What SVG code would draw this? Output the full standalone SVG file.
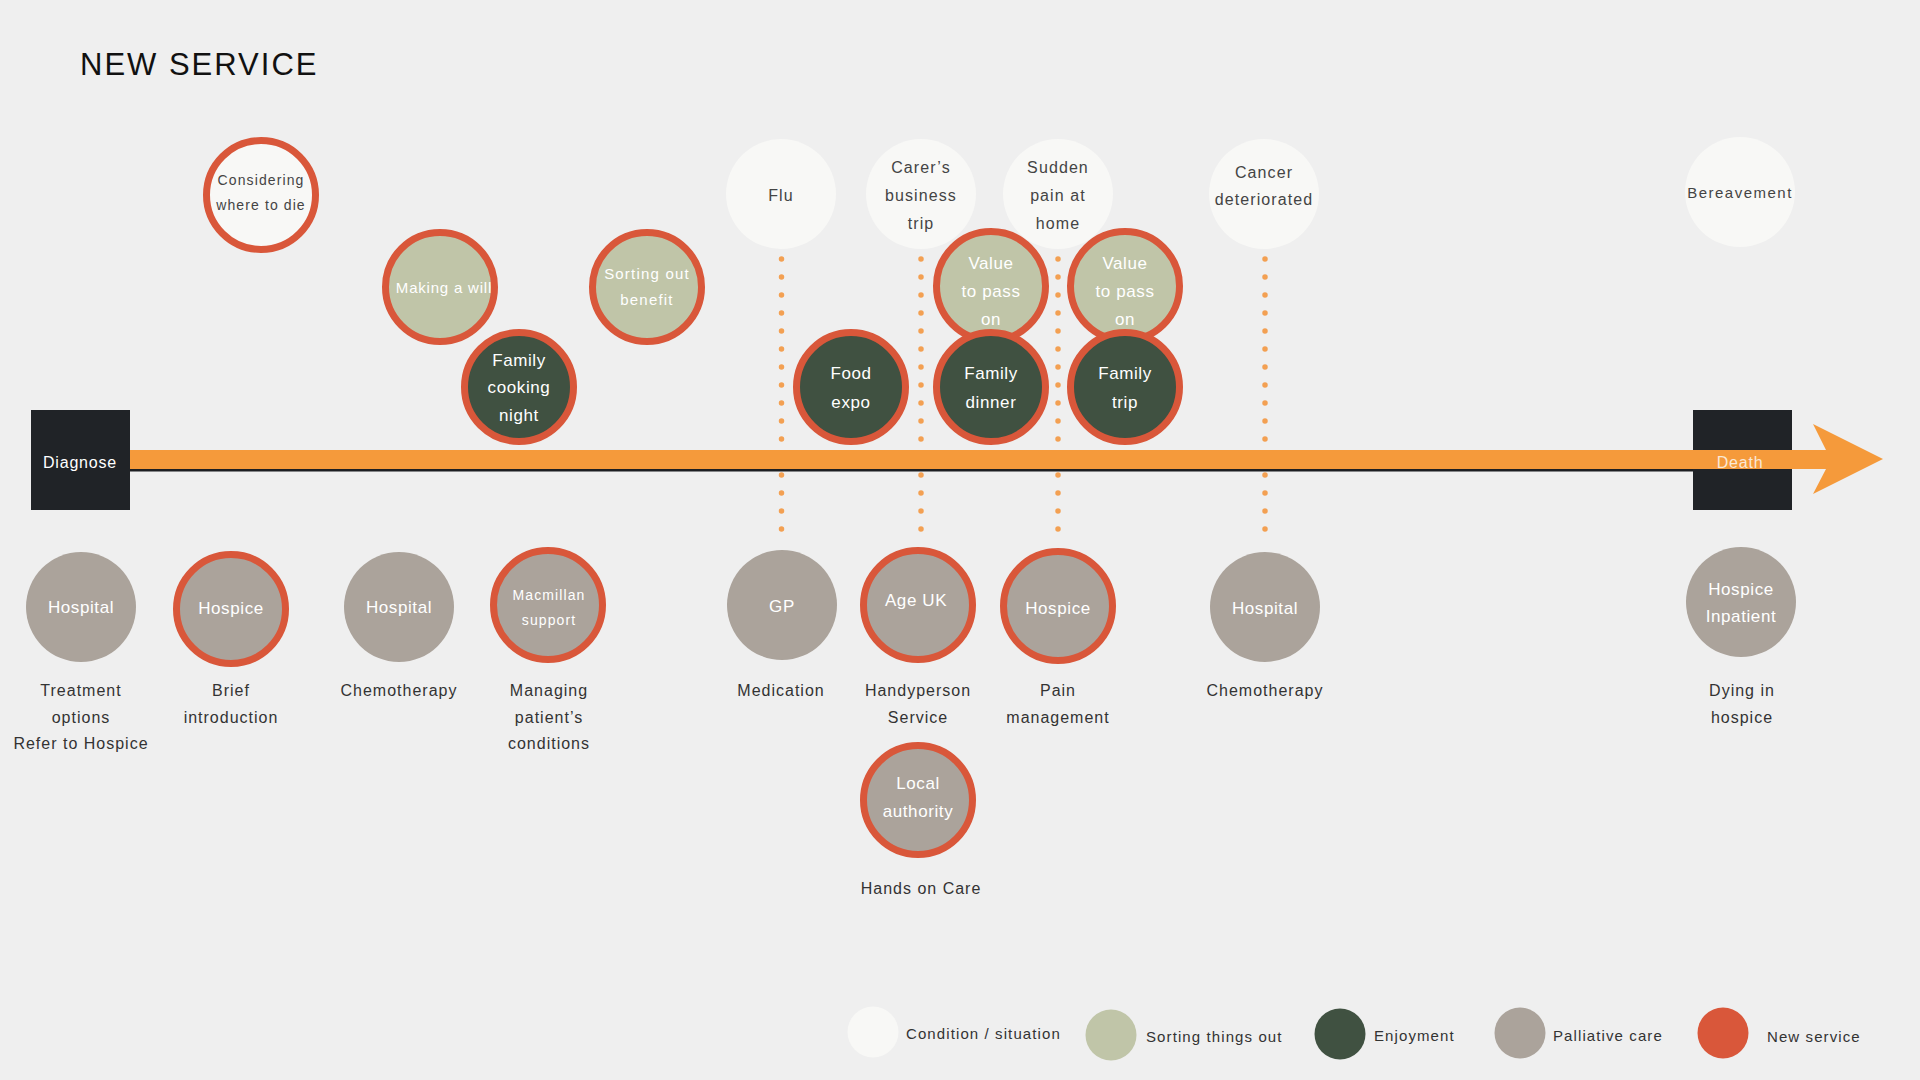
<svg xmlns="http://www.w3.org/2000/svg" width="1920" height="1080" viewBox="0 0 1920 1080">
<style>
text{font-family:"Liberation Sans",Arial,sans-serif;text-anchor:middle;dominant-baseline:central}
.cond{fill:#f8f8f6}
.sort{fill:#c0c5a8}
.enj{fill:#405141}
.pal{fill:#aba39b}
.new{stroke:#d9573a;stroke-width:7}
.dk{fill:#444;font-size:16px;letter-spacing:1.1px}
.wt{fill:#ffffff;font-size:17px;letter-spacing:0.6px}
.ws{fill:#ffffff;font-size:15px;letter-spacing:1px}
.lbl{fill:#333;font-size:16px;letter-spacing:1px}
.leg{fill:#333;font-size:15px;letter-spacing:1.1px;text-anchor:start}
.dots{stroke:#f3a052;stroke-width:5.5;stroke-linecap:round;stroke-dasharray:0 18;fill:none}
</style>
<rect x="0" y="0" width="1920" height="1080" fill="#efefef"/>
<text x="80" y="64" style="font-size:31px;letter-spacing:2px;text-anchor:start;fill:#111">NEW SERVICE</text>

<g id="connectors">
<line class="dots" x1="781.5" y1="259" x2="781.5" y2="530"/>
<line class="dots" x1="921" y1="259" x2="921" y2="530"/>
<line class="dots" x1="1058" y1="259" x2="1058" y2="530"/>
<line class="dots" x1="1265" y1="259" x2="1265" y2="530"/>
</g>

<g id="timeline">
<line x1="128" y1="470" x2="1695" y2="470" stroke="#1d1f22" stroke-width="3"/>
<rect id="diagnose" x="31" y="410" width="99" height="100" fill="#202327"/>
<rect id="death" x="1693" y="410" width="99" height="100" fill="#202327"/>
<polygon points="130,450 1826,450 1813,424 1883,459 1813,494 1826,469 130,469" fill="#f59a3b"/>
<text x="80" y="462" style="fill:#fff;font-size:16px;letter-spacing:0.8px">Diagnose</text>
<text x="1740" y="462" style="fill:#fbe9d6;font-size:16px;letter-spacing:0.8px">Death</text>
</g>

<g id="n-considering">
<circle class="cond new" cx="261" cy="195" r="54.5"/>
<text class="dk" x="261" y="180" style="font-size:14px">Considering</text>
<text class="dk" x="261" y="205" style="font-size:14px">where to die</text>
</g>
<g id="n-making-will">
<circle class="sort new" cx="440" cy="287" r="54.5"/>
<text class="ws" x="444" y="287" style="letter-spacing:0.8px">Making a will</text>
</g>
<g id="n-sorting-benefit">
<circle class="sort new" cx="647" cy="287" r="54.5"/>
<text class="ws" x="647" y="273" style="letter-spacing:1.2px">Sorting out</text>
<text class="ws" x="647" y="299" style="letter-spacing:1.2px">benefit</text>
</g>
<g id="n-family-cooking">
<circle class="enj new" cx="519" cy="387" r="54.5"/>
<text class="wt" x="519" y="360">Family</text>
<text class="wt" x="519" y="387">cooking</text>
<text class="wt" x="519" y="415">night</text>
</g>
<g id="n-flu">
<circle class="cond" cx="781" cy="194" r="55"/>
<text class="dk" x="781" y="195">Flu</text>
</g>
<g id="n-carers-trip">
<circle class="cond" cx="921" cy="194" r="55"/>
<text class="dk" x="921" y="167">Carer’s</text>
<text class="dk" x="921" y="195">business</text>
<text class="dk" x="921" y="223">trip</text>
</g>
<g id="n-sudden-pain">
<circle class="cond" cx="1058" cy="194" r="55"/>
<text class="dk" x="1058" y="167">Sudden</text>
<text class="dk" x="1058" y="195">pain at</text>
<text class="dk" x="1058" y="223">home</text>
</g>
<g id="n-cancer">
<circle class="cond" cx="1264" cy="194" r="55"/>
<text class="dk" x="1264" y="172">Cancer</text>
<text class="dk" x="1264" y="199">deteriorated</text>
</g>
<g id="n-bereavement">
<circle class="cond" cx="1740" cy="192" r="55"/>
<text class="dk" x="1740" y="192" style="font-size:15px;letter-spacing:1.5px">Bereavement</text>
</g>
<g id="n-food-expo">
<circle class="enj new" cx="851" cy="387" r="54.5"/>
<text class="wt" x="851" y="373">Food</text>
<text class="wt" x="851" y="402">expo</text>
</g>
<g id="n-value-1">
<circle class="sort new" cx="991" cy="286" r="54.5"/>
<text class="wt" x="991" y="263">Value</text>
<text class="wt" x="991" y="291">to pass</text>
<text class="wt" x="991" y="319">on</text>
</g>
<g id="n-family-dinner">
<circle class="enj new" cx="991" cy="387" r="54.5"/>
<text class="wt" x="991" y="373">Family</text>
<text class="wt" x="991" y="402">dinner</text>
</g>
<g id="n-value-2">
<circle class="sort new" cx="1125" cy="286" r="54.5"/>
<text class="wt" x="1125" y="263">Value</text>
<text class="wt" x="1125" y="291">to pass</text>
<text class="wt" x="1125" y="319">on</text>
</g>
<g id="n-family-trip">
<circle class="enj new" cx="1125" cy="387" r="54.5"/>
<text class="wt" x="1125" y="373">Family</text>
<text class="wt" x="1125" y="402">trip</text>
</g>

<g id="n-hospital-1">
<circle class="pal" cx="81" cy="607" r="55"/>
<text class="wt" x="81" y="607">Hospital</text>
<text class="lbl" x="81" y="690">Treatment</text>
<text class="lbl" x="81" y="717">options</text>
<text class="lbl" x="81" y="743">Refer to Hospice</text>
</g>
<g id="n-hospice-brief">
<circle class="pal new" cx="231" cy="609" r="54.5"/>
<text class="wt" x="231" y="608">Hospice</text>
<text class="lbl" x="231" y="690">Brief</text>
<text class="lbl" x="231" y="717">introduction</text>
</g>
<g id="n-hospital-2">
<circle class="pal" cx="399" cy="607" r="55"/>
<text class="wt" x="399" y="607">Hospital</text>
<text class="lbl" x="399" y="690">Chemotherapy</text>
</g>
<g id="n-macmillan">
<circle class="pal new" cx="548" cy="605" r="54.5"/>
<text class="ws" x="549" y="595" style="font-size:14px;letter-spacing:1.1px">Macmillan</text>
<text class="ws" x="549" y="620" style="font-size:14px;letter-spacing:1.1px">support</text>
<text class="lbl" x="549" y="690">Managing</text>
<text class="lbl" x="549" y="717">patient’s</text>
<text class="lbl" x="549" y="743">conditions</text>
</g>
<g id="n-gp">
<circle class="pal" cx="782" cy="605" r="55"/>
<text class="wt" x="782" y="606">GP</text>
<text class="lbl" x="781" y="690">Medication</text>
</g>
<g id="n-age-uk">
<circle class="pal new" cx="918" cy="605" r="54.5"/>
<text class="wt" x="916" y="600">Age UK</text>
<text class="lbl" x="918" y="690">Handyperson</text>
<text class="lbl" x="918" y="717">Service</text>
</g>
<g id="n-hospice-pain">
<circle class="pal new" cx="1058" cy="606" r="54.5"/>
<text class="wt" x="1058" y="608">Hospice</text>
<text class="lbl" x="1058" y="690">Pain</text>
<text class="lbl" x="1058" y="717">management</text>
</g>
<g id="n-hospital-3">
<circle class="pal" cx="1265" cy="607" r="55"/>
<text class="wt" x="1265" y="608">Hospital</text>
<text class="lbl" x="1265" y="690">Chemotherapy</text>
</g>
<g id="n-local-authority">
<circle class="pal new" cx="918" cy="800" r="54.5"/>
<text class="wt" x="918" y="783">Local</text>
<text class="wt" x="918" y="811">authority</text>
<text class="lbl" x="921" y="888">Hands on Care</text>
</g>
<g id="n-hospice-inpatient">
<circle class="pal" cx="1741" cy="602" r="55"/>
<text class="wt" x="1741" y="589">Hospice</text>
<text class="wt" x="1741" y="616">Inpatient</text>
<text class="lbl" x="1742" y="690">Dying in</text>
<text class="lbl" x="1742" y="717">hospice</text>
</g>

<g id="legend">
<circle class="cond" cx="873" cy="1032" r="25.5"/>
<text class="leg" x="906" y="1033">Condition / situation</text>
<circle class="sort" cx="1111" cy="1035" r="25.5"/>
<text class="leg" x="1146" y="1036">Sorting things out</text>
<circle class="enj" cx="1340" cy="1034" r="25.5"/>
<text class="leg" x="1374" y="1035">Enjoyment</text>
<circle class="pal" cx="1520" cy="1033" r="25.5"/>
<text class="leg" x="1553" y="1035">Palliative care</text>
<circle cx="1723" cy="1033" r="25.5" fill="#d9573a"/>
<text class="leg" x="1767" y="1036">New service</text>
</g>
</svg>
